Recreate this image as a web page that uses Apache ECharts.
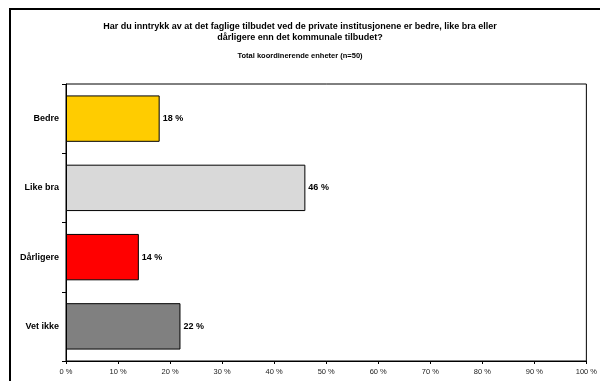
<!DOCTYPE html>
<html>
<head>
<meta charset="utf-8">
<script src="https://cdn.jsdelivr.net/npm/echarts@6/dist/echarts.min.js"></script>
<style>
  html, body { margin: 0; padding: 0; background: #fff; }
  #chart { width: 600px; height: 381px; }
</style>
</head>
<body>
<div id="chart"></div>
<script>
// Survey answers, share of respondents (%)
var categories = ['Bedre', 'Like bra', 'Dårligere', 'Vet ikke'];
var shares = [18, 46, 14, 22];
var barColors = ['#FFCC00', '#D9D9D9', '#FF0000', '#808080'];
var xTicks = [0, 10, 20, 30, 40, 50, 60, 70, 80, 90, 100];

var titleText = 'Har du inntrykk av at det faglige tilbudet ved de private institusjonene er bedre, like bra eller\ndårligere enn det kommunale tilbudet?';
var subtitleText = 'Total koordinerende enheter (n=50)';

var FONT = 'Liberation Sans, Arial, sans-serif';
var chart = echarts.init(document.getElementById('chart'), null, { renderer: 'canvas' });

chart.setOption({
  backgroundColor: '#ffffff',
  animation: false,
  title: [
    {
      text: titleText,
      left: 300,
      top: 21,
      textAlign: 'center',
      padding: 0,
      textStyle: { fontFamily: FONT, fontSize: 9, fontWeight: 'bold', color: '#000', lineHeight: 11, align: 'center' }
    },
    {
      text: subtitleText,
      left: 300,
      top: 52,
      textAlign: 'center',
      padding: 0,
      textStyle: { fontFamily: FONT, fontSize: 7.5, fontWeight: 'bold', color: '#000' }
    }
  ],
  graphic: [
    {
      type: 'rect',
      shape: { x: 10, y: 9, width: 700, height: 500 },
      style: { fill: 'none', stroke: '#000', lineWidth: 2 },
      silent: true
    }
  ],
  grid: {
    left: 66, right: 9, top: 84, bottom: 20,
    show: true, borderColor: '#000', borderWidth: 1, backgroundColor: '#fff'
  },
  xAxis: {
    type: 'value',
    min: 0, max: 100, interval: 10,
    axisLine: { show: true, lineStyle: { color: '#000', width: 1 } },
    axisTick: { show: true, length: 3, lineStyle: { color: '#000' } },
    splitLine: { show: false },
    axisLabel: {
      fontFamily: FONT, fontSize: 7.5, color: '#222', margin: 7,
      formatter: function (v) { return xTicks.indexOf(v) >= 0 ? v + ' %' : ''; }
    }
  },
  yAxis: {
    type: 'category',
    data: categories,
    inverse: true,
    axisLine: { show: true, lineStyle: { color: '#000', width: 1 } },
    axisTick: { show: true, length: 4, inside: false, lineStyle: { color: '#000' } },
    axisLabel: { fontFamily: FONT, fontSize: 9, fontWeight: 'bold', color: '#000', margin: 7 }
  },
  series: [
    {
      type: 'bar',
      data: shares.map(function (v, i) {
        return { value: v, itemStyle: { color: barColors[i] } };
      }),
      barCategoryGap: '33%',
      itemStyle: { borderColor: '#000', borderWidth: 1 },
      label: {
        show: true, position: 'right', distance: 3,
        fontFamily: FONT, fontSize: 9, fontWeight: 'bold', color: '#000',
        formatter: function (p) { return p.value + ' %'; }
      }
    }
  ]
});
</script>
</body>
</html>
